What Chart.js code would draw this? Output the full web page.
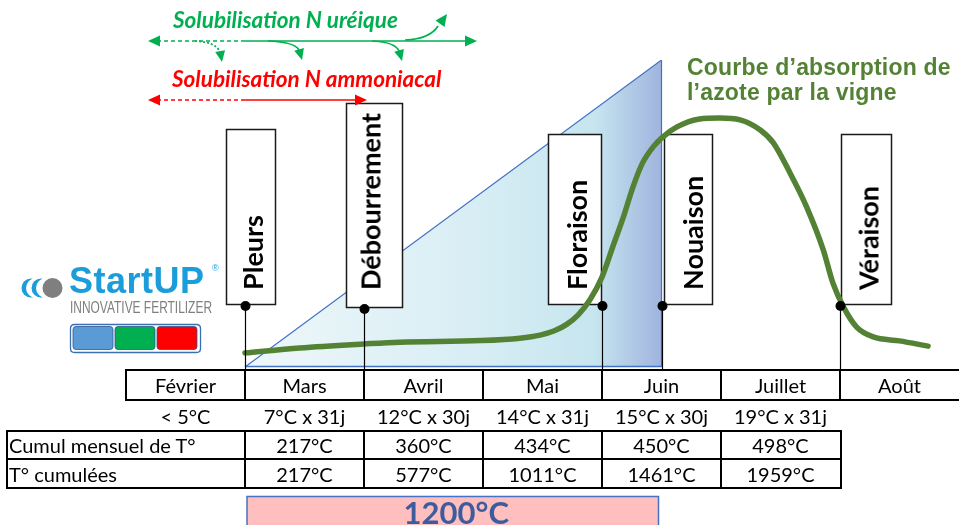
<!DOCTYPE html>
<html><head><meta charset="utf-8">
<script src="https://cdn.jsdelivr.net/npm/chart.js@4/dist/chart.umd.min.js"></script>
<style>
html,body{margin:0;padding:0;background:#fff;}
#wrap{position:relative;width:959px;height:525px;overflow:hidden;background:#fff;}
#c{position:absolute;left:0;top:0;}
.t{position:absolute;white-space:nowrap;line-height:1;}
</style></head><body>
<div id="wrap"><canvas id="c" width="959" height="525"></canvas></div>
<script>
// ---------- DATA ----------
const months = ['Février','Mars','Avril','Mai','Juin','Juillet','Août'];
const monthlyTemp = ['< 5°C','7°C x 31j','12°C x 30j','14°C x 31j','15°C x 30j','19°C x 31j'];
const rowLabels = ['Cumul mensuel de T°','T° cumulées'];
const cumulMensuel = ['217°C','360°C','434°C','450°C','498°C'];   // Mars .. Juillet
const cumulees = ['217°C','577°C','1011°C','1461°C','1959°C'];    // Mars .. Juillet
const stages = ['Pleurs','Débourrement','Floraison','Nouaison','Véraison'];
const stagePos = [1, 2, 4, 4.5, 6];          // months since start of February
const curveMonth = [1.00,1.46,2.00,2.30,2.98,3.31,3.48,3.60,3.70,3.80,3.90,4.00,4.09,4.18,4.26,4.34,4.43,4.51,4.63,4.82,4.99,5.16,5.33,5.44,5.58,5.72,5.86,5.94,6.03,6.14,6.28,6.50,6.74];
const curveValue = [4.6,6.2,7.5,8.1,8.6,9.4,10.4,11.8,13.8,17.0,22.0,29.3,39.1,48.9,58.6,66.4,71.7,74.9,78.2,80.8,81.1,80.5,77.2,73.0,63.2,52.1,38.1,27.4,19.5,13.0,9.8,8.5,6.8];
const triMonth = [1, 4.5, 4.5];
const triValue = [0, 100, 0];
const thresholdLabel = '1200°C';
const thresholdSpan = [1, 4.5];
const curveTitle = ['Courbe d\u2019absorption de', 'l\u2019azote par la vigne'];
const ureeLabel = 'Solubilisation N uréique';
const ammoLabel = 'Solubilisation N ammoniacal';

// ---------- STYLE / LAYOUT ----------
const GREEN = '#548235';
const boxStyle = [
  {dx0:-19, dx1:30, top:129, bottom:304, tdx:7},
  {dx0:-18, dx1:38, top:103, bottom:307, tdx:6},
  {dx0:-54, dx1:-1, top:134, bottom:304, tdx:-26},
  {dx0:2, dx1:50, top:134, bottom:304, tdx:30},
  {dx0:1, dx1:51, top:134, bottom:304, tdx:28}
];
const TABLE = {monthTop:370, monthBot:400, tempY:416, t2Top:431, t2Mid:459, t2Bot:488, left:7};

const wrap = document.getElementById('wrap');
function addText(txt, x, y, css, align, rot){
  const d = document.createElement('div');
  d.className = 't'; d.textContent = txt;
  Object.assign(d.style, css || {});
  d.style.left = x + 'px'; d.style.top = y + 'px';
  if (rot) {
    d.style.transformOrigin = '0 50%';
    d.style.transform = 'translate(0,-50%) rotate(-90deg)';
  } else {
    const tx = align === 'left' ? '0' : (align === 'right' ? '-100%' : '-50%');
    d.style.transform = 'translate(' + tx + ',-50%)';
  }
  wrap.appendChild(d);
  return d;
}
function head(ctx, x, y, ang, len, w, color){
  ctx.save(); ctx.translate(x, y); ctx.rotate(ang);
  ctx.beginPath(); ctx.moveTo(0,0); ctx.lineTo(-len,-w/2); ctx.lineTo(-len,w/2); ctx.closePath();
  ctx.fillStyle = color; ctx.fill(); ctx.restore();
}
function rrect(ctx, x, y, w, h, r){
  ctx.beginPath();
  ctx.moveTo(x+r,y); ctx.lineTo(x+w-r,y); ctx.quadraticCurveTo(x+w,y,x+w,y+r);
  ctx.lineTo(x+w,y+h-r); ctx.quadraticCurveTo(x+w,y+h,x+w-r,y+h);
  ctx.lineTo(x+r,y+h); ctx.quadraticCurveTo(x,y+h,x,y+h-r);
  ctx.lineTo(x,y+r); ctx.quadraticCurveTo(x,y,x+r,y); ctx.closePath();
}

const boxesPlugin = {
  id:'boxes',
  afterDatasetDraw(chart, args){
    if (args.index !== 0) return;
    const ctx = chart.ctx, xs = chart.scales.x, ys = chart.scales.y;
    ctx.save();
    ctx.strokeStyle = '#4472C4'; ctx.lineWidth = 1.5;
    ctx.beginPath();
    ctx.moveTo(xs.getPixelForValue(triMonth[0]), ys.getPixelForValue(0) - 0.5);
    ctx.lineTo(xs.getPixelForValue(triMonth[2]), ys.getPixelForValue(0) - 0.5);
    ctx.stroke();
    stagePos.forEach((p,i)=>{
      const px = Math.round(xs.getPixelForValue(p));
      const b = boxStyle[i];
      ctx.fillStyle = '#fff'; ctx.strokeStyle = '#1a1a1a'; ctx.lineWidth = 1.5;
      ctx.fillRect(px+b.dx0, b.top, b.dx1-b.dx0, b.bottom-b.top);
      ctx.strokeRect(px+b.dx0+0.5, b.top+0.5, b.dx1-b.dx0, b.bottom-b.top);
    });
    ctx.restore();
  }
};

const decoPlugin = {
  id:'deco',
  afterDraw(chart){
    const ctx = chart.ctx, xs = chart.scales.x;
    ctx.save();
    stagePos.forEach((p,i)=>{
      const px = Math.round(xs.getPixelForValue(p)) + 0.5;
      const dy = boxStyle[i].bottom + 2;
      ctx.strokeStyle = '#000'; ctx.lineWidth = 1.2;
      ctx.beginPath(); ctx.moveTo(px, dy); ctx.lineTo(px, TABLE.monthTop); ctx.stroke();
      ctx.fillStyle = '#000'; ctx.beginPath(); ctx.arc(px, dy, 5, 0, Math.PI*2); ctx.fill();
    });
    ctx.strokeStyle = '#000'; ctx.lineWidth = 2;
    const x0 = xs.getPixelForValue(0), xEnd = 960;
    ctx.beginPath();
    ctx.moveTo(x0, TABLE.monthTop); ctx.lineTo(xEnd, TABLE.monthTop);
    ctx.moveTo(x0, TABLE.monthBot); ctx.lineTo(xEnd, TABLE.monthBot);
    for (let i=0;i<months.length;i++){
      const xp = Math.round(xs.getPixelForValue(i));
      ctx.moveTo(xp, TABLE.monthTop - 1); ctx.lineTo(xp, TABLE.monthBot + 1);
    }
    ctx.stroke();
    const c0 = TABLE.left, cEnd = xs.getPixelForValue(6) + 1;
    ctx.beginPath();
    [TABLE.t2Top, TABLE.t2Mid, TABLE.t2Bot].forEach(y=>{ctx.moveTo(c0-1,y); ctx.lineTo(cEnd+1,y);});
    ctx.moveTo(c0, TABLE.t2Top); ctx.lineTo(c0, TABLE.t2Bot);
    for (let i=1;i<=6;i++){
      const xp = i===6 ? cEnd : Math.round(xs.getPixelForValue(i));
      ctx.moveTo(xp, TABLE.t2Top); ctx.lineTo(xp, TABLE.t2Bot);
    }
    ctx.stroke();
    const bx0 = xs.getPixelForValue(thresholdSpan[0]) + 2, bx1 = xs.getPixelForValue(thresholdSpan[1]) - 3;
    ctx.fillStyle = '#FFBFBF'; ctx.fillRect(bx0, 496, bx1-bx0, 40);
    ctx.strokeStyle = '#4472C4'; ctx.lineWidth = 1.5; ctx.strokeRect(bx0, 496.5, bx1-bx0, 40);

    const G = '#00B050', R = '#FF0000';
    ctx.lineWidth = 1.7;
    ctx.strokeStyle = G;
    ctx.setLineDash([4,3]);
    ctx.beginPath(); ctx.moveTo(157,41); ctx.lineTo(243,41); ctx.stroke();
    ctx.setLineDash([]);
    ctx.beginPath(); ctx.moveTo(243,41); ctx.lineTo(467,41); ctx.stroke();
    head(ctx,148,41,Math.PI,12,11,G); head(ctx,477,41,0,12,11,G);
    ctx.setLineDash([2,2]);
    ctx.beginPath(); ctx.moveTo(195,41); ctx.quadraticCurveTo(216,42,220,52); ctx.stroke();
    ctx.setLineDash([]);
    head(ctx,222,62,1.4,11,10,G);
    ctx.beginPath(); ctx.moveTo(268,41); ctx.quadraticCurveTo(295,42,299,50); ctx.stroke();
    head(ctx,302,60,1.3,11,10,G);
    ctx.beginPath(); ctx.moveTo(372,41); ctx.quadraticCurveTo(395,42,399,51); ctx.stroke();
    head(ctx,402,61,1.3,11,10,G);
    ctx.beginPath(); ctx.moveTo(405,40); ctx.quadraticCurveTo(430,39,438,26); ctx.stroke();
    head(ctx,447,14,-0.95,12,11,G);
    ctx.strokeStyle = R;
    ctx.setLineDash([4,3]);
    ctx.beginPath(); ctx.moveTo(157,100); ctx.lineTo(243,100); ctx.stroke();
    ctx.setLineDash([]);
    ctx.beginPath(); ctx.moveTo(243,100); ctx.lineTo(357,100); ctx.stroke();
    head(ctx,148,100,Math.PI,12,11,R); head(ctx,367,100,0,12,11,R);

    // logo: two blue crescents and a gray disc
    [31, 41].forEach(cx=>{
      ctx.fillStyle = '#1B9DDB'; ctx.beginPath(); ctx.arc(cx,288,9.5,0,Math.PI*2); ctx.fill();
      ctx.fillStyle = '#fff'; ctx.beginPath(); ctx.arc(cx+5,288,10,0,Math.PI*2); ctx.fill();
    });
    ctx.fillStyle = '#7F7F7F'; ctx.beginPath(); ctx.arc(52.5,288,10,0,Math.PI*2); ctx.fill();
    ctx.fillStyle = '#fff'; ctx.strokeStyle = '#3B6FB0'; ctx.lineWidth = 1.3;
    rrect(ctx,70.5,324.5,130,28,4); ctx.fill(); ctx.stroke();
    [['#5B9BD5',73],['#00B050',115],['#FF0000',157]].forEach(([c,x])=>{
      ctx.fillStyle = c; ctx.strokeStyle = '#2F5597'; ctx.lineWidth = 0.8;
      rrect(ctx,x,326.5,40,23,3); ctx.fill(); ctx.stroke();
    });
    ctx.restore();
  }
};

const chart = new Chart(document.getElementById('c'), {
  type:'line',
  data:{
    datasets:[
      {
        data: triMonth.map((m,i)=>({x:m, y:triValue[i]})),
        borderColor:'#4472C4', borderWidth:1.2, tension:0, pointRadius:0, fill:'origin',
        backgroundColor(context){
          const ch = context.chart; if (!ch.chartArea) return '#D8EEF4';
          const xs = ch.scales.x;
          const g = ch.ctx.createLinearGradient(xs.getPixelForValue(1),0,xs.getPixelForValue(4.5),0);
          g.addColorStop(0,'#EEF7FA'); g.addColorStop(0.55,'#D8EEF4');
          g.addColorStop(0.84,'#C6E5EF'); g.addColorStop(1,'#A0B4DE');
          return g;
        },
        order:2
      },
      {
        data: curveMonth.map((m,i)=>({x:m, y:curveValue[i]})),
        borderColor:GREEN, borderWidth:5.5, pointRadius:0, fill:false,
        cubicInterpolationMode:'monotone', borderCapStyle:'round', borderJoinStyle:'round',
        order:1
      }
    ]
  },
  options:{
    responsive:false, animation:false, devicePixelRatio:1, events:[],
    layout:{padding:{left:126, right:0, top:60, bottom:158}},
    scales:{
      x:{type:'linear', min:0, max:7, display:false},
      y:{min:0, max:100, display:false}
    },
    plugins:{legend:{display:false}, tooltip:{enabled:false}}
  },
  plugins:[boxesPlugin, decoPlugin]
});

// ---------- TEXT (real HTML text, positioned from the chart scales) ----------
const xs = chart.scales.x;
const tableFont = {fontFamily:'Lato, sans-serif', fontSize:'20px', color:'#000'};
months.forEach((m,i)=>{
  addText(m, xs.getPixelForValue(i+0.5), (TABLE.monthTop+TABLE.monthBot)/2, tableFont);
});
monthlyTemp.forEach((t,i)=>{
  addText(t, xs.getPixelForValue(i+0.5), TABLE.tempY, tableFont);
});
const r1 = (TABLE.t2Top+TABLE.t2Mid)/2, r2 = (TABLE.t2Mid+TABLE.t2Bot)/2;
addText(rowLabels[0], TABLE.left+2, r1, tableFont, 'left');
addText(rowLabels[1], TABLE.left+2, r2, tableFont, 'left');
cumulMensuel.forEach((t,i)=>addText(t, xs.getPixelForValue(i+1.5), r1, tableFont));
cumulees.forEach((t,i)=>addText(t, xs.getPixelForValue(i+1.5), r2, tableFont));
addText(thresholdLabel, (xs.getPixelForValue(thresholdSpan[0])+xs.getPixelForValue(thresholdSpan[1]))/2 + 3, 512,
  {fontFamily:'Lato, sans-serif', fontWeight:'bold', fontSize:'31px', color:'#3D5C9E'});

stages.forEach((s,i)=>{
  const px = Math.round(xs.getPixelForValue(stagePos[i]));
  addText(s, px + boxStyle[i].tdx, 290, {fontFamily:'Lato, sans-serif', fontWeight:'bold', fontSize:'27px', color:'#000'}, 'left', true);
});

const titleCss = {fontFamily:'"Liberation Sans", Arial, sans-serif', fontWeight:'bold', fontSize:'23px', color:GREEN, letterSpacing:'0.2px'};
addText(curveTitle[0], 687, 67, titleCss, 'left');
addText(curveTitle[1], 687, 92, titleCss, 'left');

addText(ureeLabel, 173, 20, {fontFamily:'Lato, sans-serif', fontWeight:'bold', fontStyle:'italic', fontSize:'22.5px', color:'#00B050'}, 'left');
addText(ammoLabel, 172, 79, {fontFamily:'Lato, sans-serif', fontWeight:'bold', fontStyle:'italic', fontSize:'22.5px', color:'#FF0000'}, 'left');

addText('StartUP', 69, 281, {fontFamily:'"Liberation Sans", Arial, sans-serif', fontWeight:'bold', fontSize:'36px', color:'#1B9DDB', letterSpacing:'0.5px'}, 'left');
addText('®', 212, 268, {fontFamily:'"Liberation Sans", Arial, sans-serif', fontSize:'9px', color:'#1B9DDB'}, 'left');
const inv = addText('INNOVATIVE FERTILIZER', 70, 307, {fontFamily:'"Liberation Sans", Arial, sans-serif', fontSize:'17px', color:'#7F7F7F'}, 'left');
const w = inv.getBoundingClientRect().width;
inv.style.transformOrigin = '0 50%';
inv.style.transform = 'translate(0,-50%) scaleX(' + (142 / w) + ')';
</script>
</body></html>
